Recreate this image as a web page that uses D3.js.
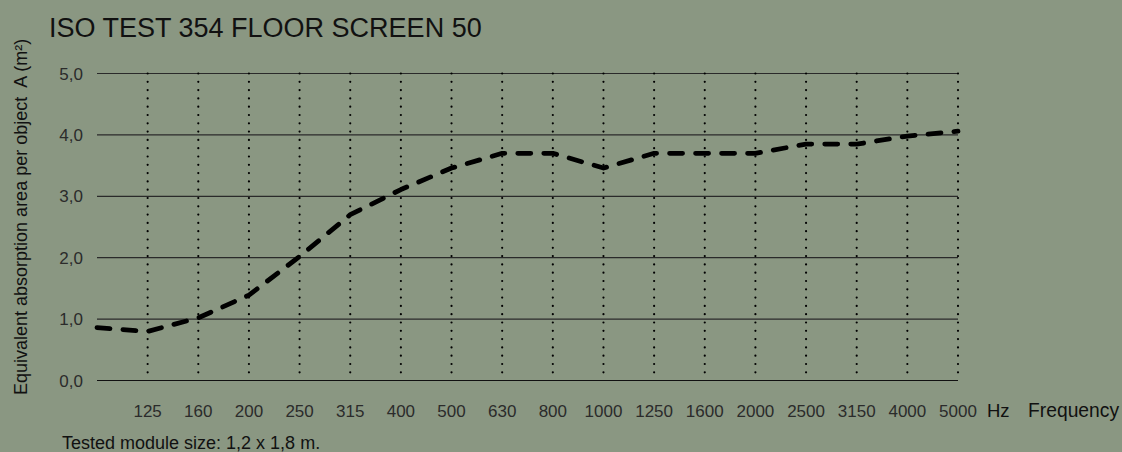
<!DOCTYPE html>
<html><head><meta charset="utf-8">
<script src="https://cdn.jsdelivr.net/npm/d3@7/dist/d3.min.js"></script>
<style>
html,body{margin:0;padding:0;background:#8a9782;}
svg{display:block;font-family:"Liberation Sans",Arial,sans-serif;}
text{white-space:pre;}
</style></head><body>
<svg id="c" width="1122" height="452"></svg>
<script>
const title = "ISO TEST 354 FLOOR SCREEN 50";
const yLabel = "Equivalent absorption area per object  A (m²)";
const footnote = "Tested module size: 1,2 x 1,8 m.";
const frequencies = ["100","125","160","200","250","315","400","500","630","800","1000","1250","1600","2000","2500","3150","4000","5000"];
const xTickLabels = ["125","160","200","250","315","400","500","630","800","1000","1250","1600","2000","2500","3150","4000","5000"];
const absorption = [0.86,0.80,1.02,1.39,2.02,2.70,3.11,3.46,3.70,3.70,3.46,3.70,3.70,3.70,3.85,3.85,3.98,4.06];
const yTicks = [0,1,2,3,4,5];

const svg = d3.select("#c");
svg.append("rect").attr("width",1122).attr("height",452).attr("fill","#8a9782");

const x = d3.scalePoint().domain(frequencies).range([97,958]);
const y = d3.scaleLinear().domain([0,5]).range([380.5,73.5]);

// horizontal gridlines
svg.append("g").selectAll("line").data(yTicks).join("line")
  .attr("x1",x("100")).attr("x2",x("5000"))
  .attr("y1",d=>y(d)).attr("y2",d=>y(d))
  .attr("stroke",d=>d===0?"#111":"#2a2a2a").attr("stroke-width",1.2);

// vertical dotted lines
svg.append("g").selectAll("line").data(xTickLabels).join("line")
  .attr("x1",d=>x(d)).attr("x2",d=>x(d))
  .attr("y1",y(5)).attr("y2",y(0))
  .attr("stroke","#000").attr("stroke-width",2.2)
  .attr("stroke-linecap","round").attr("stroke-dasharray","0,8.3");

// y tick labels
svg.append("g").selectAll("text").data(yTicks).join("text")
  .attr("x",83).attr("y",d=>y(d)).attr("dy","0.36em")
  .attr("text-anchor","end").attr("font-size",17).attr("fill","#2b2b2b")
  .text(d=>d3.format(".1f")(d).replace(".",","));

// x tick labels
svg.append("g").selectAll("text").data(xTickLabels).join("text")
  .attr("x",d=>x(d)).attr("y",417)
  .attr("text-anchor","middle").attr("font-size",17).attr("fill","#2b2b2b")
  .text(d=>d);

svg.append("text").attr("x",987).attr("y",417).attr("font-size",18.5).attr("fill","#111").text("Hz");
svg.append("text").attr("x",1028).attr("y",417).attr("font-size",19.3).attr("fill","#111").text("Frequency");

// line
const line = d3.line().x((d,i)=>x(frequencies[i])).y(d=>y(d));
svg.append("path").datum(absorption).attr("d",line)
  .attr("fill","none").attr("stroke","#000").attr("stroke-width",4.8)
  .attr("stroke-linecap","round").attr("stroke-linejoin","round")
  .attr("stroke-dasharray","13,13");

// title
svg.append("text").attr("x",49).attr("y",37).attr("font-size",27).attr("fill","#111").text(title);

// y label
svg.append("text").attr("transform","translate(26.5,395) rotate(-90)")
  .attr("font-size",18).attr("fill","#111").text(yLabel);

// footnote
svg.append("text").attr("x",62).attr("y",449).attr("font-size",18).attr("fill","#111").text(footnote);
</script>
</body></html>
